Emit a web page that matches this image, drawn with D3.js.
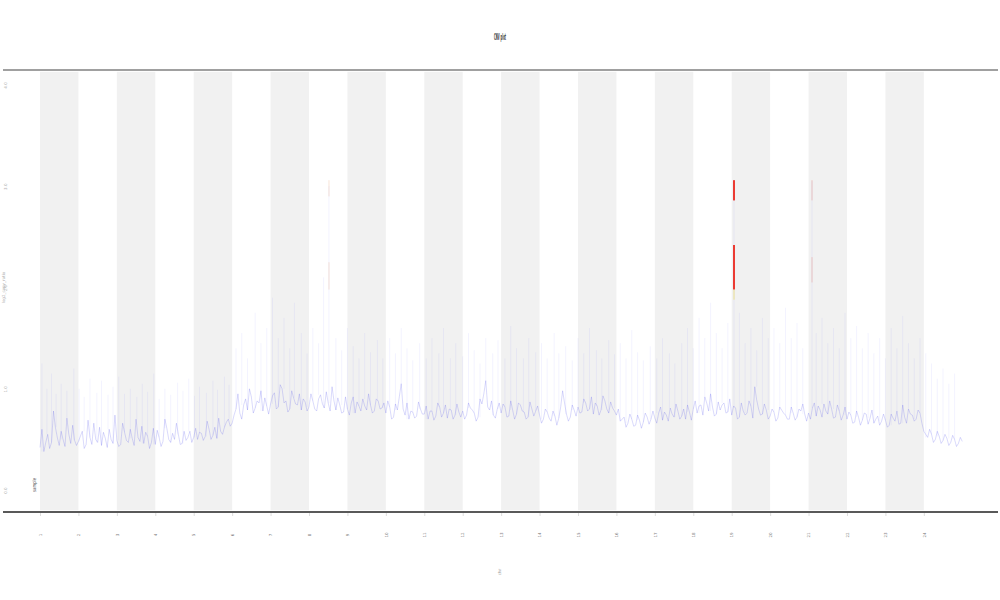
<!DOCTYPE html>
<html><head><meta charset="utf-8">
<script src="https://cdn.jsdelivr.net/npm/d3@7"></script>
<style>body{margin:0;background:#fff}svg{display:block}</style>
</head><body>
<svg id="c" width="1000" height="600"></svg>
<script>
// ---- data ----
const chromLabels = ["1","2","3","4","5","6","7","8","9","10","11","12","13","14","15","16","17","18","19","20","21","22","23","24"];
const yTicks = [0, 1, 2, 3, 4];
const signalStep = 0.1;
// values at positions 0, 0.1, 0.2, ...
const signal = [
 0.42,0.38,0.55,0.47,0.62,0.44,0.50,0.71,0.46,0.49,
 0.48,0.58,0.45,0.52,0.66,0.47,0.44,0.51,0.60,0.46,
 0.49,0.45,0.57,0.47,0.51,0.70,0.48,0.46,0.53,0.47,
 0.45,0.52,0.48,0.61,0.47,0.50,0.55,0.46,0.49,0.58,
 0.52,0.50,0.56,0.53,0.60,0.54,0.51,0.58,0.62,0.70,
 0.66,0.80,0.76,0.84,0.79,0.92,0.81,0.86,0.78,0.83,
 0.85,0.96,0.82,1.00,0.88,0.80,0.91,0.84,0.79,0.87,
 0.82,0.88,0.78,0.94,0.81,0.86,1.02,0.79,0.84,0.77,
 0.80,0.86,0.76,0.83,0.90,0.79,0.84,0.78,0.88,0.81,
 0.76,0.82,0.72,0.79,1.05,0.74,0.70,0.77,0.73,0.80,
 0.75,0.70,0.78,0.73,0.82,0.76,0.71,0.79,0.74,0.77,
 0.78,0.74,0.81,0.76,0.72,0.85,1.08,0.79,0.74,0.80,
 0.76,0.82,0.73,0.79,0.75,0.84,0.77,0.72,0.80,0.78,
 0.74,0.70,0.77,0.68,0.73,0.71,0.98,0.75,0.72,0.79,
 0.82,0.77,0.86,0.80,0.75,0.83,0.79,0.88,0.76,0.81,
 0.74,0.68,0.72,0.66,0.70,0.64,0.69,0.67,0.72,0.70,
 0.71,0.76,0.69,0.74,0.81,0.72,0.78,0.73,0.70,0.77,
 0.80,0.76,0.84,0.92,0.78,0.82,0.75,0.79,0.86,0.77,
 0.74,0.81,0.72,0.78,0.76,0.83,1.02,0.80,0.75,0.79,
 0.73,0.77,0.71,0.79,0.74,0.70,0.76,0.72,0.78,0.75,
 0.76,0.81,0.73,0.79,0.85,0.75,0.80,0.72,0.78,0.74,
 0.70,0.74,0.67,0.72,0.69,0.75,0.71,0.66,0.73,0.68,
 0.69,0.64,0.71,0.78,0.66,0.72,0.80,0.74,0.70,0.76,
 0.58,0.52,0.55,0.50,0.53,0.49,0.51,0.47,0.50,0.46,0.48
];
// values at positions 0.05, 0.15, 0.25, ...
const signalMid = [
 0.60,0.47,0.41,0.78,0.52,0.58,0.43,0.55,0.64,0.44,
 0.53,0.41,0.69,0.45,0.50,0.62,0.57,0.42,0.50,0.74,
 0.43,0.66,0.49,0.60,0.44,0.52,0.63,0.57,0.41,0.61,
 0.59,0.43,0.70,0.50,0.56,0.66,0.45,0.58,0.52,0.47,
 0.61,0.57,0.49,0.68,0.50,0.62,0.71,0.55,0.67,0.63,
 0.74,0.95,0.70,0.90,1.00,0.76,0.88,0.98,0.91,0.75,
 0.93,0.80,1.04,0.86,0.77,0.98,0.85,0.95,0.90,0.78,
 0.95,0.80,0.90,0.85,0.97,0.78,0.88,0.91,0.76,0.92,
 0.74,0.92,0.87,0.78,0.83,0.95,0.76,0.90,0.80,0.86,
 0.88,0.70,0.85,0.92,0.80,0.86,0.78,0.71,0.87,0.75,
 0.83,0.78,0.69,0.86,0.72,0.84,0.80,0.70,0.85,0.72,
 0.70,0.86,0.79,0.68,0.90,0.95,0.82,0.88,0.71,0.86,
 0.85,0.72,0.88,0.70,0.86,0.78,0.70,0.87,0.73,0.83,
 0.66,0.80,0.71,0.78,0.64,0.82,0.86,0.68,0.84,0.73,
 0.76,0.90,0.78,0.92,0.86,0.74,0.93,0.80,0.87,0.78,
 0.80,0.70,0.62,0.75,0.63,0.74,0.61,0.76,0.65,0.78,
 0.66,0.82,0.77,0.68,0.75,0.85,0.70,0.80,0.84,0.69,
 0.88,0.83,0.74,0.86,0.95,0.73,0.87,0.84,0.76,0.90,
 0.83,0.70,0.86,0.74,0.88,0.71,0.89,0.74,0.85,0.70,
 0.80,0.68,0.82,0.76,0.70,0.82,0.69,0.80,0.85,0.68,
 0.70,0.86,0.83,0.72,0.78,0.88,0.71,0.84,0.69,0.82,
 0.77,0.66,0.78,0.64,0.76,0.65,0.79,0.70,0.64,0.75,
 0.62,0.75,0.68,0.65,0.84,0.66,0.75,0.68,0.79,0.66,
 0.55,0.60,0.47,0.58,0.46,0.55,0.44,0.54,0.43,0.52
];
const spikePos = [0.05,0.18,0.3,0.42,0.55,0.7,0.88,1.02,1.15,1.3,1.48,1.6,1.77,1.9,2.05,2.2,2.35,2.52,2.66,2.8,2.96,3.1,3.25,3.4,3.58,3.72,3.87,4.02,4.15,4.33,4.5,4.62,4.8,4.92,
 5.1,5.25,5.4,5.6,5.75,5.9,6.05,6.2,6.35,6.5,6.62,6.8,6.95,7.1,7.25,7.38,7.52,7.7,7.85,8.0,8.15,8.3,8.45,8.6,8.78,8.92,9.1,9.25,9.4,9.55,9.7,9.88,10.05,10.2,10.38,10.5,10.68,10.82,11.0,11.15,11.3,11.45,11.6,11.78,11.92,12.1,12.25,12.4,12.58,12.72,12.9,13.05,13.2,13.38,13.5,13.68,13.85,14.0,14.15,14.3,14.48,14.62,14.8,14.95,15.1,15.25,15.4,15.55,15.7,15.88,16.05,16.2,16.38,16.52,16.7,16.85,17.0,17.15,17.3,17.45,17.6,17.75,17.9,18.06,18.2,18.35,18.5,18.65,18.8,18.95,19.1,19.25,19.4,19.55,19.7,19.85,20.09,20.2,20.35,20.5,20.65,20.8,20.95,21.1,21.25,21.4,21.55,21.7,21.85,22.0,22.15,22.3,22.45,22.6,22.75,22.9,23.05,23.2,23.35,23.5,23.65,23.8];
const spikeVal = [1.25,1.0,1.15,0.95,1.05,0.98,1.2,1.0,0.92,1.1,0.96,1.08,0.94,1.02,1.12,0.95,1.0,0.92,1.05,0.97,1.15,0.9,1.0,0.94,1.06,0.98,1.1,0.93,1.02,0.96,1.08,0.99,1.12,1.04,
 1.4,1.55,1.3,1.75,1.45,1.6,1.9,1.5,1.7,1.4,1.85,1.55,1.35,1.6,1.45,2.1,3.0,1.5,1.38,1.6,1.42,1.3,1.55,1.36,1.48,1.3,1.5,1.35,1.6,1.4,1.28,1.45,1.3,1.5,1.35,1.6,1.3,1.45,1.32,1.55,1.38,1.25,1.5,1.35,1.48,1.3,1.62,1.4,1.3,1.5,1.36,1.45,1.3,1.55,1.35,1.42,1.28,1.5,1.35,1.6,1.38,1.3,1.48,1.34,1.45,1.3,1.58,1.36,1.28,1.42,1.3,1.5,1.35,1.25,1.45,1.6,1.4,1.7,1.5,1.85,1.55,1.4,1.65,3.06,1.75,1.45,1.6,1.38,1.7,1.5,1.6,1.45,1.8,1.5,1.65,1.4,3.05,1.55,1.7,1.45,1.6,1.4,1.75,1.5,1.62,1.4,1.55,1.35,1.5,1.3,1.6,1.4,1.72,1.45,1.3,1.5,1.35,1.25,1.1,1.2,1.05,1.15];
// highlighted segments: position, from value, to value, colour group
const hiPos  = [18.06, 18.06, 18.06, 20.09, 20.09, 7.52, 7.52];
const hiFrom = [2.86, 1.98, 1.88, 2.86, 2.05, 2.90, 1.98];
const hiTo   = [3.06, 2.42, 1.98, 3.06, 2.30, 3.06, 2.25];
const hiKind = ["red", "red", "yellow", "faintred", "faintred", "faint", "faint"];

// ---- chart ----
const svg = d3.select("#c");
const x = d3.scaleLinear().domain([-0.963, 24.93]).range([3, 998]);
const y = d3.scaleLinear().domain([-0.217, 4.148]).range([512, 70]);

// bands
svg.append("g").selectAll("rect")
  .data(chromLabels.map((d, i) => i).filter(i => i % 2 === 0 && i < 23))
  .join("rect")
  .attr("x", i => x(i)).attr("width", i => x(i + 1) - x(i))
  .attr("y", y(4.13)).attr("height", y(-0.2) - y(4.13))
  .attr("fill", "#f1f1f1");

// merged series
const series = [];
signal.forEach((v, i) => {
  series.push([i * signalStep, v]);
  if (i < signalMid.length) series.push([i * signalStep + signalStep / 2, signalMid[i]]);
});
const baseAt = p => signal[Math.min(signal.length - 1, Math.round(p / signalStep))];

// spikes
svg.append("g").selectAll("line")
  .data(spikePos.map((p, i) => ({p, v: spikeVal[i], b: baseAt(p)})))
  .join("line")
  .attr("x1", d => x(d.p)).attr("x2", d => x(d.p))
  .attr("y1", d => y(d.b)).attr("y2", d => y(d.v))
  .attr("stroke", "rgba(120,120,255,0.13)").attr("stroke-width", 0.7);

// signal line
const line = d3.line().x(d => x(d[0])).y(d => y(d[1]));
svg.append("path").datum(series).attr("d", line)
  .attr("fill", "none").attr("stroke", "rgba(60,60,235,0.32)").attr("stroke-width", 0.6);

// highlights
const hiColor = {red: "rgba(235,40,30,0.9)", yellow: "rgba(240,220,80,0.6)", faintred: "rgba(235,80,60,0.25)", faint: "rgba(230,150,100,0.25)"};
svg.append("g").selectAll("line")
  .data(hiPos.map((p, i) => ({p, a: hiFrom[i], b: hiTo[i], k: hiKind[i]})))
  .join("line")
  .attr("x1", d => x(d.p)).attr("x2", d => x(d.p))
  .attr("y1", d => y(d.a)).attr("y2", d => y(d.b))
  .attr("stroke", d => hiColor[d.k]).attr("stroke-width", d => d.k === "red" ? 2 : 1);

// frame lines
svg.append("line").attr("x1", 3).attr("x2", 998).attr("y1", y(4.148)).attr("y2", y(4.148))
  .attr("stroke", "#a0a0a0").attr("stroke-width", 2);
svg.append("line").attr("x1", 3).attr("x2", 998).attr("y1", y(-0.217)).attr("y2", y(-0.217))
  .attr("stroke", "#222").attr("stroke-width", 1.5);

// x axis
const xa = svg.append("g").attr("transform", "translate(0,513)")
  .call(d3.axisBottom(x).tickValues(chromLabels.map((d, i) => i)).tickFormat(i => chromLabels[i]).tickSize(3));
xa.select(".domain").remove();
xa.selectAll(".tick line").attr("stroke", "#bbb").attr("stroke-width", 0.5);
xa.selectAll(".tick text").attr("font-size", 4).attr("fill", "#777").attr("font-family", "DejaVu Sans")
  .attr("transform", "translate(0,22) rotate(-90)").attr("dy", "0.3em").attr("y", 0).attr("text-anchor", "middle");

// y axis labels
const ya = svg.append("g").attr("transform", "translate(6,0)")
  .call(d3.axisLeft(y).tickValues(yTicks).tickSize(0));
ya.select(".domain").remove();
ya.selectAll(".tick text").attr("font-size", 4).attr("fill", "#aaa").attr("font-family", "DejaVu Sans")
  .attr("x", 0).attr("text-anchor", "middle").attr("transform", "rotate(-90)").attr("dy", "0.3em");

// axis titles
svg.append("text").attr("transform", `translate(5,${y(2)}) rotate(-90)`).attr("text-anchor", "middle")
  .attr("font-size", 4).attr("fill", "#aaa").attr("font-family", "DejaVu Sans").text("log2_copy_ratio");
svg.append("text").attr("transform", "translate(500,572) rotate(-90)").attr("text-anchor", "middle")
  .attr("font-size", 4).attr("fill", "#999").attr("font-family", "DejaVu Sans").attr("dy", "0.3em").text("chr");

// title
svg.append("text").attr("x", 500).attr("y", 40).attr("text-anchor", "middle")
  .attr("font-size", 8).attr("font-weight", "bold").attr("fill", "#333").attr("font-family", "DejaVu Sans Condensed")
  .attr("textLength", 12).attr("lengthAdjust", "spacingAndGlyphs").text("CNV plot");

// legend
svg.append("text").attr("transform", `translate(34,${y(0.05)}) rotate(-90)`).attr("text-anchor", "middle")
  .attr("font-size", 5).attr("fill", "#555").attr("font-family", "DejaVu Sans").attr("dy", "0.3em")
  .attr("textLength", 14).attr("lengthAdjust", "spacingAndGlyphs").text("sample");
</script>
</body></html>
